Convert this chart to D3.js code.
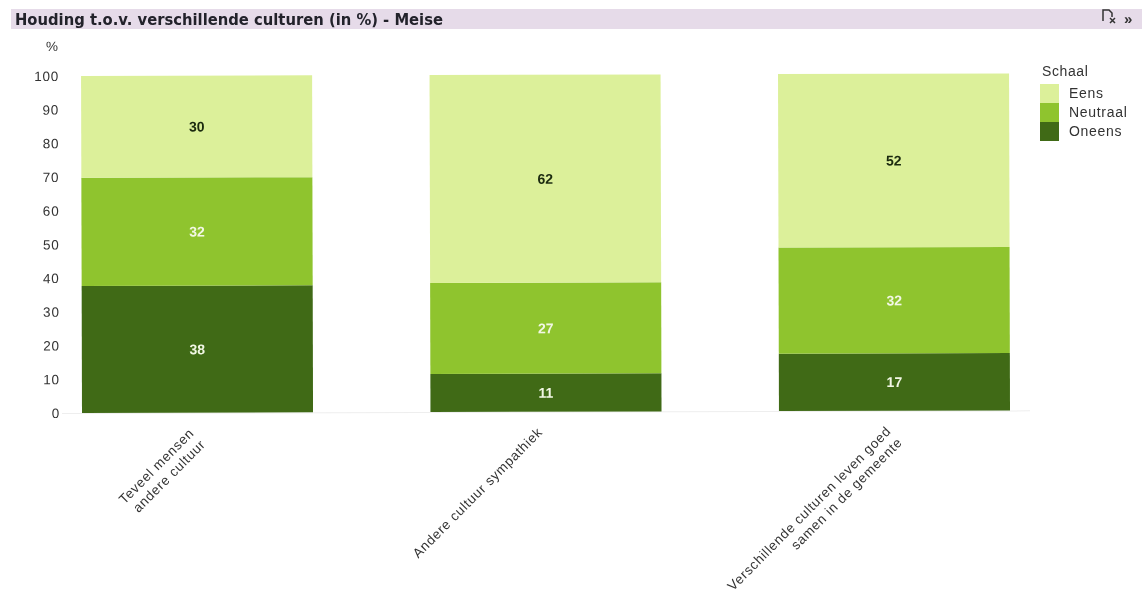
<!DOCTYPE html>
<html><head><meta charset="utf-8">
<script src="https://cdn.jsdelivr.net/npm/d3@7"></script>
<style>
html,body{margin:0;padding:0;background:#fff}
text{font-family:"Liberation Sans",Arial,sans-serif;fill:#2b2b2b}
</style></head><body>
<svg id="c" width="1142" height="614"></svg>
<script>
const titleText = "Houding t.o.v. verschillende culturen (in %) - Meise";
const categories = ["Teveel mensen|andere cultuur","Andere cultuur sympathiek","Verschillende culturen leven goed|samen in de gemeente"];
const seriesNames = ["Oneens","Neutraal","Eens"];
const legendOrder = ["Eens","Neutraal","Oneens"];
const oneens = [37.7,11.3,17];
const neutraal = [32.1,27,31.5];
const eens = [30.2,61.7,51.5];
const yTicks = [0,10,20,30,40,50,60,70,80,90,100];
const colors = {Eens:"#dcf09a",Neutraal:"#8fc42f",Oneens:"#3f6a17"};
const labelColors = {Eens:"#1a2a10",Neutraal:"#f2f7e4",Oneens:"#f2f7e4"};

const svg = d3.select("#c");
svg.append("defs").append("filter").attr("id","soft")
  .attr("x","-2%").attr("y","-2%").attr("width","104%").attr("height","104%")
  .append("feGaussianBlur").attr("stdDeviation",0.45);
const root = svg.append("g").attr("filter","url(#soft)");
root.append("rect").attr("width",1142).attr("height",614).attr("fill","#fff");

const band = root.append("g");
band.append("rect").attr("x",11).attr("y",9).attr("width",1131).attr("height",20).attr("fill","#e6dbe9");
band.append("text").attr("x",15).attr("y",25).text(titleText)
  .style("font-family","'DejaVu Sans'").style("font-weight","bold").style("font-size","15px").style("fill","#23232c")
  .attr("textLength",428).attr("lengthAdjust","spacingAndGlyphs");
band.append("path").attr("d","M1103 21V10h6l3 3v4M1110 18l5 5M1115 18l-5 5").attr("fill","none").attr("stroke","#333").attr("stroke-width",1.5);
band.append("text").attr("x",1124).attr("y",24).text("»").style("font-size","15px").style("font-weight","bold").style("fill","#333");

const g = root.append("g").attr("transform","rotate(-0.16 82 413)");
const x = d3.scaleBand().domain(categories).range([82,1010]).paddingInner(0.337).paddingOuter(0);
const y = d3.scaleLinear().domain([0,100]).range([413,76]);
const rows = categories.map((c,i)=>({cat:c,Oneens:oneens[i],Neutraal:neutraal[i],Eens:eens[i]}));
const stacked = d3.stack().keys(seriesNames)(rows);

const yAxis = d3.axisLeft(y).tickValues(yTicks).tickSize(0).tickPadding(0);
const ya = g.append("g").attr("transform","translate(60,0)").call(yAxis);
ya.select(".domain").remove();
ya.selectAll("text").style("font-size","13.5px").style("letter-spacing","0.8px").style("fill","#333");
g.append("text").attr("x",59).attr("y",51).attr("text-anchor","end").text("%").style("font-size","13.5px").style("fill","#333");

g.append("line").attr("x1",62).attr("x2",1030).attr("y1",413.5).attr("y2",413.5).attr("stroke","#eeeeee");

const layers = g.selectAll(".layer").data(stacked).join("g").attr("class","layer");
layers.selectAll("rect").data(d=>d.map(v=>({v,key:d.key}))).join("rect")
  .attr("x",d=>x(d.v.data.cat)).attr("width",x.bandwidth())
  .attr("y",d=>y(d.v[1])).attr("height",d=>y(d.v[0])-y(d.v[1]))
  .attr("fill",d=>colors[d.key]);
layers.selectAll("text").data(d=>d.map(v=>({v,key:d.key}))).join("text")
  .attr("x",d=>x(d.v.data.cat)+x.bandwidth()/2)
  .attr("y",d=>y((d.v[0]+d.v[1])/2)+5)
  .attr("text-anchor","middle")
  .text(d=>(d.v[1]-d.v[0]).toFixed(0))
  .style("font-size","14px").style("font-weight","bold").style("fill",d=>labelColors[d.key]);

const catG = g.selectAll(".cat").data(categories).join("g").attr("class","cat")
  .attr("transform",d=>`translate(${x(d)+x.bandwidth()/2-7},${430}) rotate(-45)`);
catG.each(function(d){
  const lines = d.split("|");
  const t = d3.select(this).append("text").attr("text-anchor","end").style("font-size","13.5px").style("letter-spacing","0.7px").style("fill","#333");
  lines.forEach((l,i)=>{
    t.append("tspan").attr("x",0).attr("y",6+i*16).text(l);
  });
});

const leg = root.append("g");
leg.append("text").attr("x",1042).attr("y",76).text("Schaal").style("font-size","14px").style("letter-spacing","0.6px").style("fill","#333");
const ly = d3.scaleBand().domain(legendOrder).range([84,141]);
leg.selectAll("rect").data(legendOrder).join("rect")
  .attr("x",1040).attr("y",d=>ly(d)).attr("width",19).attr("height",ly.bandwidth()).attr("fill",d=>colors[d]);
leg.selectAll(".l").data(legendOrder).join("text").attr("class","l")
  .attr("x",1069).attr("y",d=>ly(d)+ly.bandwidth()/2+4).text(d=>d)
  .style("font-size","14px").style("letter-spacing","0.7px").style("fill","#333");
</script></body></html>
